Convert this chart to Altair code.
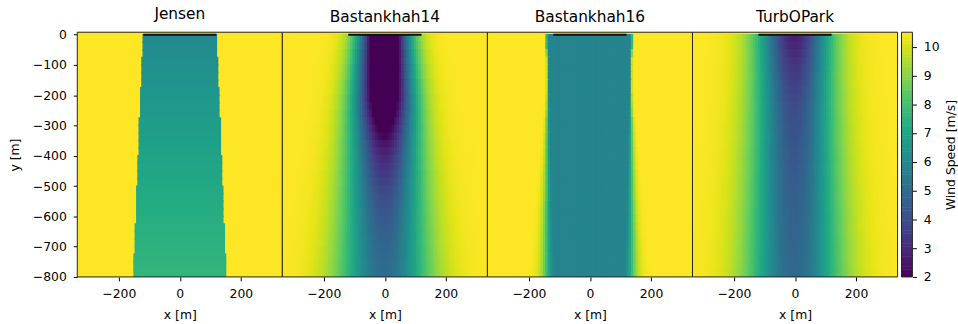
import numpy as np
import pandas as pd
import altair as alt

# ---------------- values ----------------
MODELS = ["Jensen", "Bastankhah14", "Bastankhah16", "TurbOPark"]
FREE_STREAM_WS = 10.5
WS_DOMAIN = [2.0, 10.5]
X_DOMAIN = [-336, 336]
Y_DOMAIN = [-800, 8]
X_TICKS = [-200, 0, 200]
Y_TICKS = [0, -100, -200, -300, -400, -500, -600, -700, -800]
CBAR_TICKS = [2, 3, 4, 5, 6, 7, 8, 9, 10]

TURBINE_X = [0.0]
TURBINE_Y = [0.0]
ROTOR_D = [240.0]

ROW_STEP = 25      # m, rows of the flow map
CELL_STEP = 8      # m, columns of the flow map

# Jensen: top-hat wake, half width [m] and wake speed [m/s] per 25 m row
JENSEN_HALF_WIDTH = [120, 120, 120, 124, 124, 124, 124, 128, 128, 128, 128,
                     133, 133, 133, 133, 133, 137, 137, 137, 137, 141, 141,
                     141, 141, 141, 146, 146, 146, 146, 150, 150, 150]
JENSEN_WS = [5.99, 6.05, 6.12, 6.19, 6.25, 6.32, 6.38, 6.44, 6.50, 6.56, 6.61,
             6.67, 6.72, 6.78, 6.83, 6.88, 6.93, 6.98, 7.02, 7.07, 7.12, 7.17,
             7.21, 7.25, 7.30, 7.34, 7.38, 7.42, 7.46, 7.50, 7.53, 7.57]

# Bastankhah14: gaussian wake, centre speed and width per row
B14_CENTER_WS = [-1.0, -0.9, -0.75, -0.6, -0.45, -0.3, -0.15, 0.0, 0.2, 0.55,
                 0.95, 1.35, 1.75, 2.1, 2.45, 2.75, 3.0, 3.2, 3.4, 3.6, 3.8,
                 3.95, 4.1, 4.25, 4.4, 4.5, 4.6, 4.7, 4.8, 4.85, 4.95, 5.0]
B14_SIGMA = [59, 60, 62, 63, 65, 66, 68, 69, 71, 72, 74, 75, 77, 78, 80, 81,
             83, 84, 86, 87, 89, 90, 92, 93, 95, 96, 98, 99, 101, 102, 104, 105]

# Bastankhah16: flat core with soft edges
B16_CORE_WS = 5.8
B16_CORE_HALF = [138, 138, 137, 136, 135, 134, 133, 132, 131, 130, 129, 129,
                 128, 127, 126, 125, 124, 123, 122, 121, 120, 119, 119, 118,
                 117, 116, 115, 114, 113, 112, 111, 110]
B16_EDGE_SIGMA = [2, 2, 2, 2, 2.5, 3, 3.5, 4, 5, 6, 7, 8, 9, 10, 11, 12, 13,
                  14, 15, 16, 17, 18, 19, 20, 21, 22, 23, 24, 25, 26, 27, 28]

# TurbOPark: gaussian wake, centre speed and width per row
TOP_CENTER_WS = [2.75, 2.9, 3.05, 3.2, 3.35, 3.5, 3.62, 3.73, 3.83, 3.92, 4.0,
                 4.07, 4.13, 4.19, 4.24, 4.29, 4.34, 4.38, 4.42, 4.46, 4.5,
                 4.53, 4.57, 4.6, 4.64, 4.67, 4.7, 4.73, 4.76, 4.79, 4.82, 4.85]
TOP_SIGMA = [85, 86, 86, 87, 88, 88, 89, 90, 91, 91, 92, 93, 94, 94, 95, 96,
             97, 97, 98, 99, 100, 100, 101, 102, 103, 103, 104, 105, 106, 106,
             107, 108]

# ---------------- tables ----------------
N_ROWS = len(JENSEN_WS)
ROW_TOPS = [-ROW_STEP * i for i in range(N_ROWS)]
XC = np.arange(X_DOMAIN[0] + CELL_STEP / 2, X_DOMAIN[1], CELL_STEP)


def background():
    return [dict(x1=X_DOMAIN[0], x2=X_DOMAIN[1], y1=Y_DOMAIN[1], y2=Y_DOMAIN[0],
                 ws=FREE_STREAM_WS)]


def cells_from_rows(row_values):
    recs = background()
    for top, ws_row in zip(ROW_TOPS, row_values):
        for x, w in zip(XC, ws_row):
            recs.append(dict(x1=x - CELL_STEP / 2, x2=x + CELL_STEP / 2,
                             y1=top, y2=top - ROW_STEP, ws=float(w)))
    return pd.DataFrame(recs)


def gaussian_rows(center, sigma):
    out = []
    for c, s in zip(center, sigma):
        out.append(FREE_STREAM_WS - (FREE_STREAM_WS - c) * np.exp(-XC ** 2 / (2.0 * s ** 2)))
    return out


def core_rows(core_ws, half, edge):
    out = []
    for a, s in zip(half, edge):
        d = np.clip(np.abs(XC) - a, 0, None)
        out.append(FREE_STREAM_WS - (FREE_STREAM_WS - core_ws) * np.exp(-d ** 2 / (2.0 * s ** 2)))
    return out


def jensen_table():
    recs = background()
    for top, hw, w in zip(ROW_TOPS, JENSEN_HALF_WIDTH, JENSEN_WS):
        recs.append(dict(x1=-hw, x2=hw, y1=top, y2=top - ROW_STEP, ws=w))
    return pd.DataFrame(recs)


tables = {
    "Jensen": jensen_table(),
    "Bastankhah14": cells_from_rows(gaussian_rows(B14_CENTER_WS, B14_SIGMA)),
    "Bastankhah16": cells_from_rows(core_rows(B16_CORE_WS, B16_CORE_HALF, B16_EDGE_SIGMA)),
    "TurbOPark": cells_from_rows(gaussian_rows(TOP_CENTER_WS, TOP_SIGMA)),
}

rotors = pd.DataFrame({
    "rx1": [x - d / 2 for x, d in zip(TURBINE_X, ROTOR_D)],
    "rx2": [x + d / 2 for x, d in zip(TURBINE_X, ROTOR_D)],
    "ry": TURBINE_Y,
})

# ---------------- chart ----------------
FONT = "DejaVu Sans"
PANEL_W, PANEL_H = 207, 247
CBAR_GAP, CBAR_W = 4, 11

color_scale = alt.Scale(scheme="viridis", domain=WS_DOMAIN, clamp=True)
x_scale = alt.Scale(domain=X_DOMAIN, nice=False, zero=False)
y_scale = alt.Scale(domain=Y_DOMAIN, nice=False, zero=False)


def x_axis():
    return alt.Axis(values=X_TICKS, title="x [m]", format="d")


def y_axis(show):
    if show:
        return alt.Axis(values=Y_TICKS, title="y [m]", format="d", titlePadding=11)
    return None


def panel(name, show_y):
    rect = alt.Chart(tables[name]).mark_rect(clip=True, strokeWidth=1.4).encode(
        x=alt.X("x1:Q", scale=x_scale, axis=x_axis()),
        x2="x2:Q",
        y=alt.Y("y1:Q", scale=y_scale, axis=y_axis(show_y)),
        y2="y2:Q",
        color=alt.Color("ws:Q", scale=color_scale, legend=None),
        stroke=alt.Stroke("ws:Q", scale=color_scale, legend=None),
    )
    rule = alt.Chart(rotors).mark_rule(color="#111111", strokeWidth=2, clip=True).encode(
        x=alt.X("rx1:Q", scale=x_scale, axis=x_axis()),
        x2="rx2:Q",
        y=alt.Y("ry:Q", scale=y_scale, axis=y_axis(show_y)),
    )
    frame = alt.Chart(rotors).mark_rect(filled=False, stroke="#222222", strokeWidth=1).encode(
        x=alt.value(0), x2=alt.value(PANEL_W), y=alt.value(0), y2=alt.value(PANEL_H),
    )
    return alt.layer(rect, rule, frame).properties(
        width=PANEL_W, height=PANEL_H,
        title=alt.TitleParams(text=name, font=FONT, fontSize=15.5, fontWeight="normal",
                              color="black", offset=6),
    )


cb_levels = np.arange(WS_DOMAIN[0], WS_DOMAIN[1], 0.05)
cb_df = pd.DataFrame({"lo": cb_levels, "hi": cb_levels + 0.07, "ws": cb_levels + 0.025})
cb_scale = alt.Scale(domain=WS_DOMAIN, nice=False, zero=False)
cb_axis = alt.Axis(orient="right", values=CBAR_TICKS, title="Wind Speed [m/s]",
                   titleAngle=270, titleBaseline="top", titlePadding=6)
cb_rect = alt.Chart(cb_df).mark_rect(clip=True, strokeWidth=0).encode(
    x=alt.value(CBAR_GAP), x2=alt.value(CBAR_GAP + CBAR_W),
    y=alt.Y("lo:Q", scale=cb_scale, axis=cb_axis),
    y2="hi:Q",
    color=alt.Color("ws:Q", scale=color_scale, legend=None),
)
cb_frame = alt.Chart(rotors).mark_rect(filled=False, stroke="#222222", strokeWidth=1).encode(
    x=alt.value(CBAR_GAP), x2=alt.value(CBAR_GAP + CBAR_W),
    y=alt.value(0), y2=alt.value(PANEL_H),
)
cbar = alt.layer(cb_rect, cb_frame).properties(width=CBAR_GAP + CBAR_W, height=PANEL_H)

chart = alt.hconcat(*[panel(m, i == 0) for i, m in enumerate(MODELS)], cbar,
                    spacing=0, bounds="flush").configure(
    padding={"left": 8, "top": 5, "right": 0, "bottom": 5},
    background="white",
).configure_view(
    stroke=None,
).configure_axis(
    labelFont=FONT, titleFont=FONT, labelFontSize=12.5, titleFontSize=12.5,
    labelColor="black", titleColor="black", titleFontWeight="normal",
    tickColor="black", tickSize=4, tickWidth=1, labelPadding=7, titlePadding=8,
    domain=False, grid=False,
)

chart.save("out.html", embed_options={"renderer": "svg", "actions": False})
